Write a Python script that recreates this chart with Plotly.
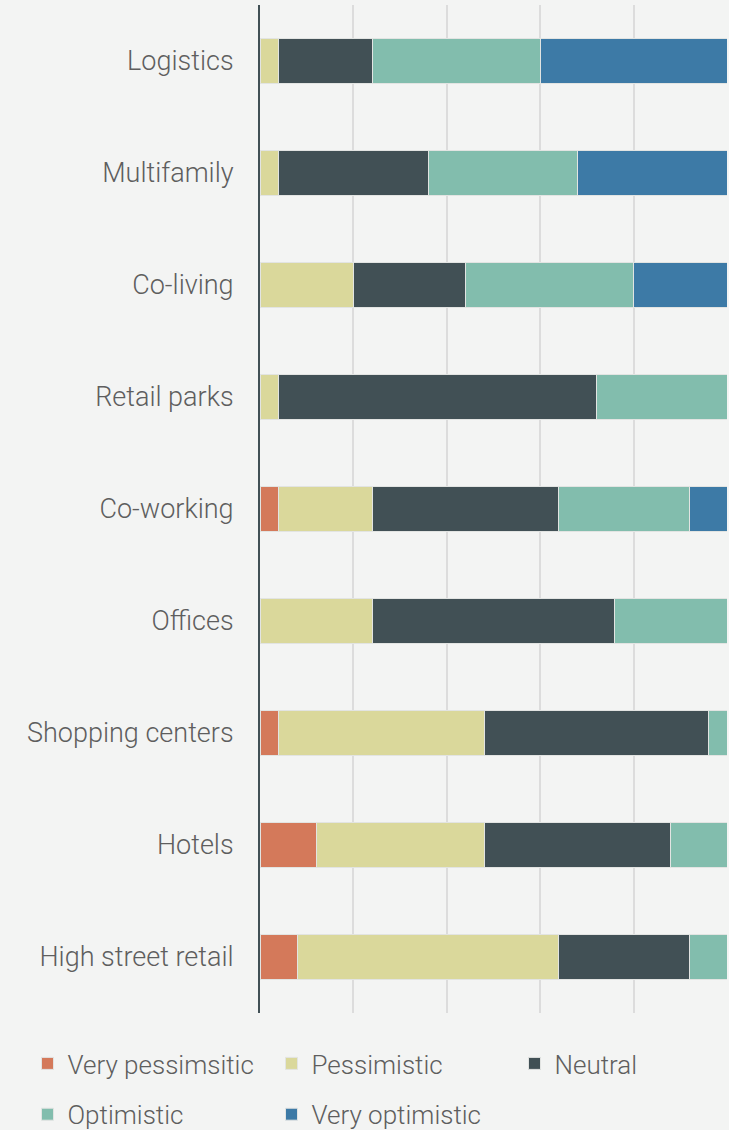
import plotly.graph_objects as go

categories = ["Logistics", "Multifamily", "Co-living", "Retail parks", "Co-working",
              "Offices", "Shopping centers", "Hotels", "High street retail"]
very_pessimistic = [0, 0, 0, 0, 4, 0, 4, 12, 8]
pessimistic = [4, 4, 20, 4, 20, 24, 44, 36, 56]
neutral = [20, 32, 24, 68, 40, 52, 48, 40, 28]
optimistic = [36, 32, 36, 28, 28, 24, 4, 12, 8]
very_optimistic = [40, 32, 20, 0, 8, 0, 0, 0, 0]

# (name, values, colour, legend id)
series = [
    ("Very pessimsitic", very_pessimistic, "#D4795A", "legend"),
    ("Pessimistic", pessimistic, "#DAD89B", "legend2"),
    ("Neutral", neutral, "#415055", "legend3"),
    ("Optimistic", optimistic, "#82BDAD", "legend"),
    ("Very optimistic", very_optimistic, "#3D7AA6", "legend2"),
]

fig = go.Figure()
for name, vals, color, leg in series:
    fig.add_trace(go.Bar(
        y=categories, x=vals, name=name, orientation="h", legend=leg,
        legendgroup=name,
        marker=dict(color=color, line=dict(color="#E2E4E2", width=1)),
        hoverinfo="x+y+name",
    ))

font_family = "Roboto"
txt_color = "#5E5E5E"
fsize = 26
legend_font = dict(family=font_family, size=fsize, color=txt_color, weight=300)
W, H = 729, 1130
leg_top = 1040
common_leg = dict(orientation="v", xref="container", yref="container", xanchor="left",
                  yanchor="top", y=1 - leg_top / H, font=legend_font, itemwidth=30,
                  tracegroupgap=14, bgcolor="rgba(0,0,0,0)", traceorder="grouped")

fig.update_layout(
    barmode="stack",
    bargap=0.6,
    width=W, height=H,
    paper_bgcolor="#F3F4F3",
    plot_bgcolor="#F3F4F3",
    margin=dict(l=260, r=2, t=5, b=117, autoexpand=False),
    font=dict(family=font_family, size=fsize, color=txt_color, weight=300),
    xaxis=dict(range=[0, 100], dtick=20, showticklabels=False, showgrid=True,
               gridcolor="#DCDCDC", gridwidth=2, zeroline=False, fixedrange=True),
    yaxis=dict(autorange="reversed", showline=True, linecolor="#415055", linewidth=2,
               ticks="", ticklabelstandoff=19, showgrid=False, fixedrange=True,
               tickfont=dict(family=font_family, size=27, color=txt_color, weight=300)),
    legend=dict(common_leg, x=27.5 / W),
    legend2=dict(common_leg, x=271.5 / W),
    legend3=dict(common_leg, x=514.5 / W),
)

fig.write_html("out.html")
